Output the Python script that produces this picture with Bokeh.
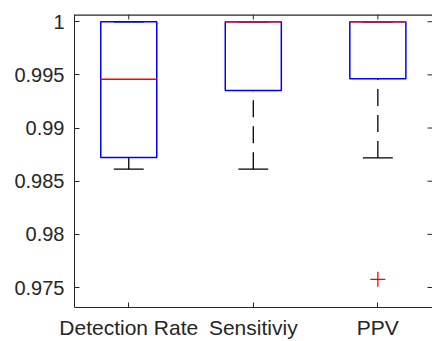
import math
from bokeh.plotting import figure
from bokeh.models import Range1d, FixedTicker, NumeralTickFormatter, ColumnDataSource
from bokeh.embed import file_html
from bokeh.resources import INLINE

categories = ["Detection Rate", "Sensitiviy", "PPV"]
positions = [1, 2, 3]
q1 = [0.98723, 0.99354, 0.99463]
median = [0.99458, 1.0, 1.0]
q3 = [1.0, 1.0, 1.0]
lower_whisker = [0.98613, 0.98613, 0.98719]
upper_whisker = [1.0, 1.0, 1.0]
outlier_x = [3]
outlier_y = [0.97577]
y_ticks = [0.975, 0.98, 0.985, 0.99, 0.995, 1.0]

X_START, X_END = 0.5644, 3.4388
Y_START, Y_END = 0.97312, 1.00068
BOX_W = 0.45
CAP_W = 0.24
AX = "#262626"
FONT = "Liberation Sans"

p = figure(width=432, height=341, output_backend="svg", toolbar_location=None,
           x_range=Range1d(X_START, X_END), y_range=Range1d(Y_START, Y_END),
           min_border_left=74, min_border_top=14, min_border_bottom=34, min_border_right=0)
p.outline_line_color = None
p.xgrid.visible = False
p.ygrid.visible = False
p.background_fill_color = "white"
p.border_fill_color = "white"

for ax in (p.xaxis[0], p.yaxis[0]):
    ax.axis_line_color = AX
    ax.major_tick_line_color = AX
    ax.minor_tick_line_color = None
    ax.major_tick_in = 5
    ax.major_tick_out = 0
    ax.major_label_text_color = AX
    ax.major_label_text_font = FONT

xa = p.xaxis[0]
xa.ticker = FixedTicker(ticks=positions)
xa.major_label_overrides = {pos: c for pos, c in zip(positions, categories)}
xa.major_label_text_font_size = "21px"
xa.major_label_standoff = 8

ya = p.yaxis[0]
ya.ticker = FixedTicker(ticks=y_ticks)
ya.formatter = NumeralTickFormatter(format="0.[000]")
ya.major_label_text_font_size = "20px"
ya.major_label_standoff = 10

# top border line and inward ticks on the top and right sides (box on)
p.hspan(y=[Y_END], line_color=AX, line_width=2.5)
p.scatter(positions, [Y_END] * len(positions), marker="dash", angle=90, angle_units="deg",
          size=10, line_color=AX, line_width=1)
p.scatter([X_END] * len(y_ticks), y_ticks, marker="dash", size=10, line_color=AX, line_width=1)

src = ColumnDataSource(dict(
    x=positions, q1=q1, med=median, q3=q3, lo=lower_whisker, hi=upper_whisker,
    left=[v - BOX_W / 2 for v in positions], right=[v + BOX_W / 2 for v in positions],
    cl=[v - CAP_W / 2 for v in positions], cr=[v + CAP_W / 2 for v in positions],
))

# whiskers (drawn from whisker end toward the box)
p.segment(x0="x", y0="lo", x1="x", y1="q1", source=src, line_color="black", line_width=1.3, line_dash="17 9")
p.segment(x0="x", y0="hi", x1="x", y1="q3", source=src, line_color="black", line_width=1.3, line_dash="17 9")
# caps
p.segment(x0="cl", y0="lo", x1="cr", y1="lo", source=src, line_color="black", line_width=1.3)
p.segment(x0="cl", y0="hi", x1="cr", y1="hi", source=src, line_color="black", line_width=1.3)
# boxes
p.quad(left="left", right="right", bottom="q1", top="q3", source=src,
       fill_color=None, line_color="#0000FF", line_width=1.5)
# medians
p.segment(x0="left", y0="med", x1="right", y1="med", source=src, line_color="#FF0000", line_width=1.5)
# outliers
p.scatter(outlier_x, outlier_y, marker="cross", size=15, line_color="#FF0000", line_width=1.3)

open("out.html", "w").write(file_html(p, INLINE))
